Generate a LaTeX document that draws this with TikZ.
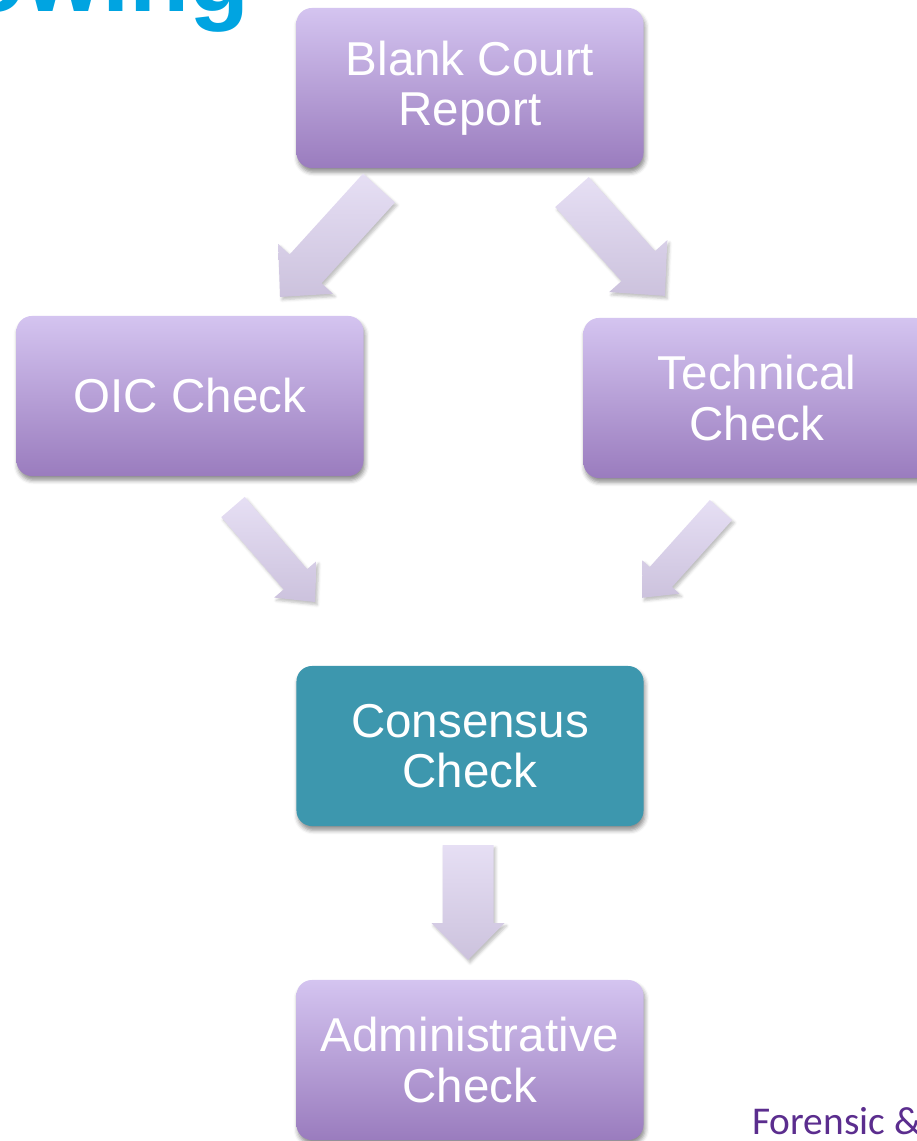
\documentclass[tikz,border=0pt]{standalone}
\usepackage{fontspec}
\setmainfont{Liberation Sans}
\newfontfamily\footfont{Carlito}
\usetikzlibrary{calc,shadows.blur}

\definecolor{boxtop}{HTML}{D4C4F0}
\definecolor{boxbot}{HTML}{9A7CBE}
\definecolor{consteal}{HTML}{3D97AE}
\definecolor{arrtop}{HTML}{E6DFF4}
\definecolor{arrbot}{HTML}{CCC2DD}
\definecolor{titleblue}{HTML}{00A4E1}
\definecolor{footpurple}{HTML}{5B2D8E}

\newdimen\pxu \pxu=0.025cm
% block arrow: #1 tail, #2 tip, #3 shaft width, #4 head width, #5 head length (px)
\newcommand{\blockarrow}[5]{%
\path[arrowshape] let \p1=($(#2)-(#1)$), \n1={atan2(\y1,\x1)}, \n2={veclen(\x1,\y1)} in
  [shift={(#1)}, rotate=\n1]
  (0pt,{-#3*\pxu/2}) -- ({\n2-#5*\pxu},{-#3*\pxu/2}) -- ({\n2-#5*\pxu},{-#4*\pxu/2})
  -- (\n2,0pt) -- ({\n2-#5*\pxu},{#4*\pxu/2}) -- ({\n2-#5*\pxu},{#3*\pxu/2})
  -- (0pt,{#3*\pxu/2}) -- cycle;}

\begin{document}
\begin{tikzpicture}[x=0.025cm,y=-0.025cm,
  box/.style={rectangle, rounded corners=11pt, minimum width=8.675cm, minimum height=4cm,
    align=center, text=white, font=\fontsize{33.8}{35.6}\selectfont,
    blur shadow={shadow xshift=1pt, shadow yshift=-3pt, shadow blur radius=3pt, shadow opacity=45}},
  purplebox/.style={box, top color=boxtop, bottom color=boxbot},
  tealbox/.style={box, fill=consteal},
  arrowshape/.style={top color=arrtop, bottom color=arrbot,
    blur shadow={shadow xshift=1.5pt, shadow yshift=-2pt, shadow blur radius=2pt, shadow opacity=25}}]
\useasboundingbox (0,0) rectangle (916,1141);

\node [anchor=base east, inner sep=0pt, text=titleblue, font=\fontsize{70}{70}\selectfont\bfseries] (title) at (250,12) {owing};

\node [purplebox] (blank) at (470,88) {Blank Court\\Report};
\node [purplebox] (oic) at (190,396) {OIC Check};
\node [purplebox] (tech) at (757,398) {Technical\\Check};
\node [tealbox] (cons) at (470,746) {Consensus\\Check};
\node [purplebox] (admin) at (470,1060) {Administrative\\Check};

\node [anchor=base west, inner sep=0pt, text=footpurple, font=\footfont\fontsize{28}{28}\selectfont] (foot) at (752,1134) {Forensic \&};

% arrow ends
\coordinate (blank-oic-a) at (379,188);
\coordinate (blank-oic-b) at (280,297);
\coordinate (blank-tech-a) at (572,192);
\coordinate (blank-tech-b) at (665,296);
\coordinate (oic-cons-a) at (233,507);
\coordinate (oic-cons-b) at (315,602);
\coordinate (tech-cons-a) at (721,510);
\coordinate (tech-cons-b) at (642,598);
\coordinate (cons-admin-a) at (468,845);
\coordinate (cons-admin-b) at (468,960);

\blockarrow{blank-oic-a}{blank-oic-b}{43}{74}{38}
\blockarrow{blank-tech-a}{blank-tech-b}{45}{78}{40}
\blockarrow{oic-cons-a}{oic-cons-b}{31}{56}{30}
\blockarrow{tech-cons-a}{tech-cons-b}{30}{50}{28}
\blockarrow{cons-admin-a}{cons-admin-b}{51}{73}{37}
\end{tikzpicture}
\end{document}
